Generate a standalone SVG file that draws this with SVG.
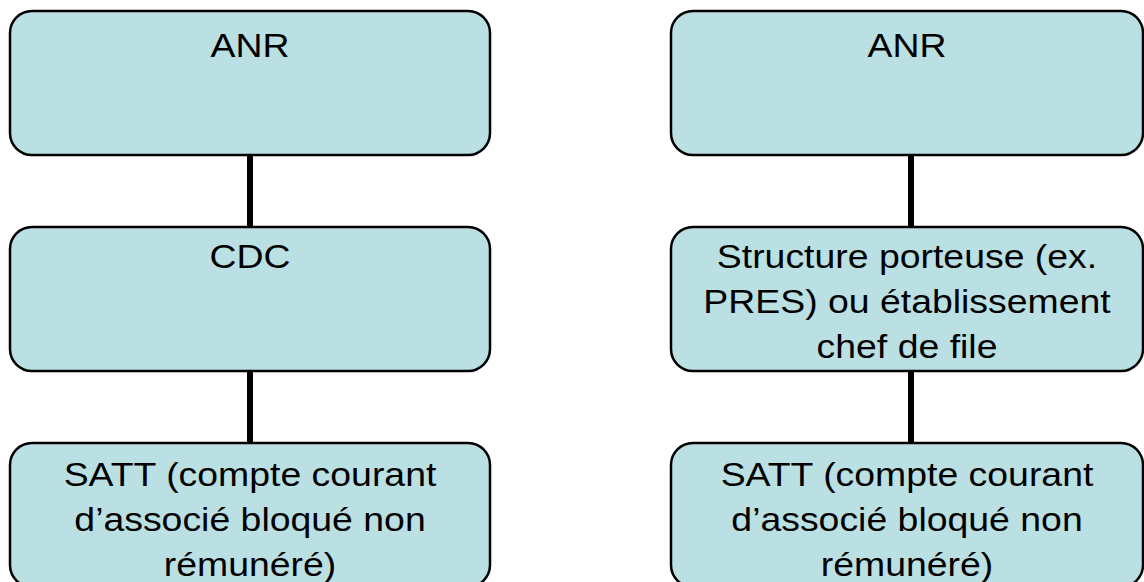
<svg xmlns="http://www.w3.org/2000/svg" width="1144" height="582" viewBox="0 0 1144 582">
<style>
.box{fill:#bbe0e3;stroke:#000;stroke-width:2.5}
.lbl{font-family:"Liberation Sans",Arial,sans-serif;font-size:34px;fill:#000;text-anchor:middle}
.conn{stroke:#000;stroke-width:6;fill:none}
</style>
<rect width="1144" height="582" fill="#fff"/>
<g id="connectors">
<line class="conn" x1="250" y1="155" x2="250" y2="227"/>
<line class="conn" x1="250" y1="371" x2="250" y2="443"/>
<line class="conn" x1="911" y1="155" x2="911" y2="227"/>
<line class="conn" x1="911" y1="371" x2="911" y2="443"/>
</g>
<g id="left-anr">
<rect class="box" x="10" y="11" width="480" height="144" rx="22"/>
<text class="lbl" transform="translate(250,57) scale(1.1,1)">ANR</text>
</g>
<g id="left-cdc">
<rect class="box" x="10" y="227" width="480" height="144" rx="22"/>
<text class="lbl" transform="translate(250,268) scale(1.1,1)">CDC</text>
</g>
<g id="left-satt">
<rect class="box" x="10" y="443" width="480" height="144" rx="22"/>
<text class="lbl" transform="translate(250,486) scale(1.1,1)">SATT (compte courant</text>
<text class="lbl" transform="translate(250,531) scale(1.1,1)">d’associé bloqué non</text>
<text class="lbl" transform="translate(250,576) scale(1.1,1)">rémunéré)</text>
</g>
<g id="right-anr">
<rect class="box" x="671" y="11" width="472" height="144" rx="22"/>
<text class="lbl" transform="translate(907,57) scale(1.1,1)">ANR</text>
</g>
<g id="right-structure">
<rect class="box" x="671" y="227" width="472" height="144" rx="22"/>
<text class="lbl" transform="translate(907,268) scale(1.1,1)">Structure porteuse (ex.</text>
<text class="lbl" transform="translate(907,313) scale(1.1,1)">PRES) ou établissement</text>
<text class="lbl" transform="translate(907,358) scale(1.1,1)">chef de file</text>
</g>
<g id="right-satt">
<rect class="box" x="671" y="443" width="472" height="144" rx="22"/>
<text class="lbl" transform="translate(907,486) scale(1.1,1)">SATT (compte courant</text>
<text class="lbl" transform="translate(907,531) scale(1.1,1)">d’associé bloqué non</text>
<text class="lbl" transform="translate(907,576) scale(1.1,1)">rémunéré)</text>
</g>
</svg>
